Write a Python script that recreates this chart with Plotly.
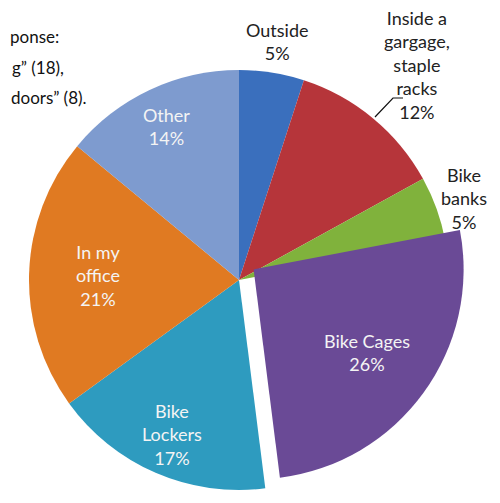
import math
import plotly.graph_objects as go

# ---- data ----
categories = ["Outside", "Inside a gargage, staple racks", "Bike banks",
              "Bike Cages", "Bike Lockers", "In my office", "Other"]
values = [5, 12, 5, 26, 17, 21, 14]
wrapped = ["Outside", "Inside a<br>gargage,<br>staple<br>racks", "Bike<br>banks",
           "Bike Cages", "Bike<br>Lockers", "In my<br>office", "Other"]
note_fragments = ["ponse:", "g\u201d (18),", "doors\u201d (8)."]

# ---- style ----
colors = ["#3a6fbd", "#b6353a", "#80b23c", "#6a4a96", "#2e9bbf", "#e07a22", "#7e9bcf"]
label_radius = [1.15, 1.33, 1.14, 0.67, 0.80, 0.67, 0.81]
label_color = ["#222", "#222", "#222", "#f4f4f4", "#f4f4f4", "#f4f4f4", "#f4f4f4"]
pulled = "Bike Cages"
pull_frac = 0.086

W, H = 500, 503
OFF = 8  # page body margin offset
cx, cy, r = 239.0 - OFF, 280.0 - OFF, 210.0
FONT = "Lato, 'Open Sans', sans-serif"

total = sum(values)
mids = []
acc = 0
for v in values:
    mids.append((acc + v / 2) / total * 2 * math.pi)
    acc += v
pi_idx = categories.index(pulled)
dx = pull_frac * r * math.sin(mids[pi_idx])
dy = pull_frac * r * math.cos(mids[pi_idx])  # downward in screen px


def domain(ccx, ccy):
    return dict(x=[(ccx - r) / W, (ccx + r) / W],
                y=[1 - (ccy + r) / H, 1 - (ccy - r) / H])


def px2paper(x, y):
    return (x - OFF) / W, 1 - (y - OFF) / H


transparent = "rgba(0,0,0,0)"
main_colors = [transparent if c == pulled else col for c, col in zip(categories, colors)]
pull_colors = [col if c == pulled else transparent for c, col in zip(categories, colors)]

fig = go.Figure()
fig.add_trace(go.Pie(labels=categories, values=values, sort=False, direction="clockwise",
                     rotation=0, domain=domain(cx, cy), textinfo="none", hoverinfo="label+percent",
                     marker=dict(colors=main_colors, line=dict(width=0)), showlegend=False))
fig.add_trace(go.Pie(labels=categories, values=values, sort=False, direction="clockwise",
                     rotation=0, domain=domain(cx + dx, cy + dy), textinfo="none", hoverinfo="skip",
                     marker=dict(colors=pull_colors, line=dict(width=0)), showlegend=False))

annotations = []
for i, (cat, v) in enumerate(zip(categories, values)):
    ocx, ocy = (cx + dx, cy + dy) if cat == pulled else (cx, cy)
    px = ocx + label_radius[i] * r * math.sin(mids[i])
    py = ocy - label_radius[i] * r * math.cos(mids[i])
    pct = round(v / total * 100)
    annotations.append(dict(x=px / W, y=1 - py / H, xref="paper", yref="paper",
                            text=f"{wrapped[i]}<br>{pct}%", showarrow=False,
                            xanchor="center", yanchor="middle", align="center",
                            font=dict(family=FONT, size=18, color=label_color[i])))

# cut-off note text at top left
note_right = [61, 66, 89]
note_y = [37, 67, 97]
for t, xr, yy in zip(note_fragments, note_right, note_y):
    ax, ay = px2paper(xr, yy)
    annotations.append(dict(x=ax, y=ay, xref="paper", yref="paper", text=t,
                            showarrow=False, xanchor="right", yanchor="middle",
                            font=dict(family=FONT, size=17, color="#111")))

# leader line for "racks"
pts = [px2paper(403, 98), px2paper(393, 98), px2paper(375, 117)]
path = "M " + " L ".join(f"{a},{b}" for a, b in pts)
shapes = [dict(type="path", xref="paper", yref="paper", path=path,
               line=dict(color="#111", width=1.2))]

fig.update_layout(width=W, height=H, margin=dict(l=0, r=0, t=0, b=0),
                  paper_bgcolor="white", plot_bgcolor="white",
                  annotations=annotations, shapes=shapes)
fig.write_html("out.html")
